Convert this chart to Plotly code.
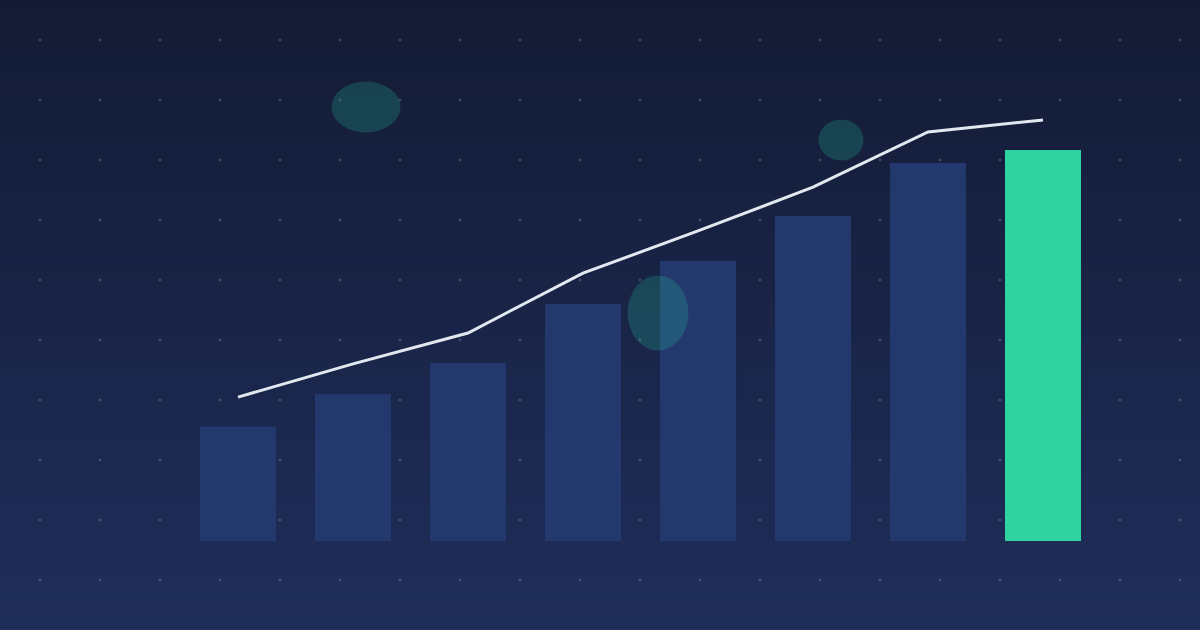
import plotly.graph_objects as go

# ---- data ----
categories = ["P1", "P2", "P3", "P4", "P5", "P6", "P7", "P8"]
bar_values = [29.2, 37.6, 45.5, 60.6, 71.6, 83.1, 96.7, 100.0]
line_values = [36.8, 45.3, 53.2, 68.5, 79.3, 90.5, 104.6, 107.7]
highlight_index = 7

# ---- style ----
W, H = 1200, 630
BAR_COLOR = "#23396d"
HIGHLIGHT = "#2ed3a0"
LINE_COLOR = "#e2e8f0"
TOP = (19, 27, 52)
BOTTOM = (31, 45, 90)

bar_colors = [HIGHLIGHT if i == highlight_index else BAR_COLOR for i in range(len(categories))]

fig = go.Figure()
fig.add_trace(go.Bar(
    x=categories, y=bar_values, width=0.661,
    marker=dict(color=bar_colors, line=dict(width=0)),
    hoverinfo="skip",
))
fig.add_trace(go.Scatter(
    x=categories, y=line_values, mode="lines",
    line=dict(color=LINE_COLOR, width=3),
    hoverinfo="skip",
))

shapes = []
# vertical background gradient
n = 126
for i in range(n):
    t = i / (n - 1)
    c = tuple(round(TOP[k] + (BOTTOM[k] - TOP[k]) * t) for k in range(3))
    shapes.append(dict(
        type="rect", xref="paper", yref="paper", layer="below",
        x0=0, x1=1, y0=1 - i / n, y1=1 - (i + 1) / n - 0.002,
        fillcolor=f"rgb{c}", line=dict(width=0),
    ))

# dot grid as one path of tiny crosses
parts = []
for gx in range(40, 1181, 60):
    for gy in range(40, 581, 60):
        x = gx / W
        y = 1 - gy / H
        d = 1.5
        parts.append(f"M{(gx - d) / W:.5f},{y:.5f}L{(gx + d) / W:.5f},{y:.5f}")
        parts.append(f"M{x:.5f},{1 - (gy - d) / H:.5f}L{x:.5f},{1 - (gy + d) / H:.5f}")
shapes.append(dict(
    type="path", xref="paper", yref="paper", layer="below",
    path="".join(parts), line=dict(color="rgba(148,163,184,0.35)", width=1),
))

# translucent decorative ellipses
for cx, cy, rx, ry in [(366, 107, 34.5, 25.5), (841, 140, 22.5, 20.5), (658, 313, 30.5, 37.5)]:
    shapes.append(dict(
        type="circle", xref="paper", yref="paper", layer="above",
        x0=(cx - rx) / W, x1=(cx + rx) / W,
        y0=1 - (cy + ry) / H, y1=1 - (cy - ry) / H,
        fillcolor="rgba(38,200,160,0.22)", line=dict(width=0),
    ))

# axis scaling: bar centres at 238 + 115*i px, zero at y=541 px, 3.91 px per unit
px_per_unit = 3.91
x0 = -238 / 115
x1 = (W - 238) / 115
y_bottom = -(H - 541) / px_per_unit
y_top = 541 / px_per_unit

fig.update_layout(
    width=W, height=H,
    margin=dict(l=0, r=0, t=0, b=0),
    paper_bgcolor="rgb(24,35,68)",
    plot_bgcolor="rgba(0,0,0,0)",
    showlegend=False,
    shapes=shapes,
    xaxis=dict(range=[x0, x1], visible=False, showgrid=False, zeroline=False, fixedrange=True),
    yaxis=dict(range=[y_bottom, y_top], visible=False, showgrid=False, zeroline=False, fixedrange=True),
)

fig.write_html(
    "out.html",
    config={"displayModeBar": False},
    post_script="document.body.style.margin='0';document.body.style.overflow='hidden';document.body.style.background='rgb(24,35,68)';",
)
